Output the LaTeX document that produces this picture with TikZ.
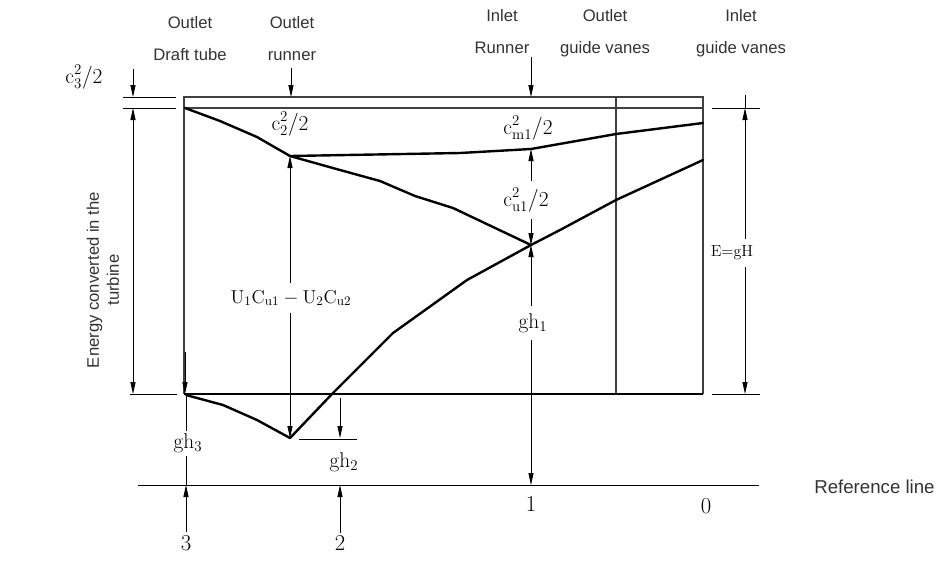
\documentclass[tikz,border=0pt]{standalone}
\usepackage{fontspec}
\setsansfont{Liberation Sans}
\usetikzlibrary{arrows.meta, calc}

\begin{document}
\begin{tikzpicture}[
  x=0.75pt, y=-0.75pt,
  font=\sffamily\fontsize{12.5}{15}\selectfont,
  caption/.style={text=black!80, inner sep=0pt, anchor=base},
  quantity/.style={font=\rmfamily\fontsize{16}{18}\selectfont, inner sep=2pt},
  onaxis/.style={quantity, inner ysep=5pt},
  frame/.style={draw=black!75, line width=0.9pt},
  energy/.style={line width=1.8pt, line join=round, line cap=round},
  guide/.style={line width=0.6pt},
  arrow/.style={guide, -{Triangle[length=9pt, width=3.8pt]}},
  dimline/.style={guide, {Triangle[length=9pt, width=3.8pt]}-{Triangle[length=9pt, width=3.8pt]}},
]
\useasboundingbox (0,0) rectangle (937,583);

\coordinate (tl) at (184,97);
\coordinate (tr) at (703,97);
\coordinate (bl) at (184,394);
\coordinate (br) at (703,394);
\coordinate (gv) at (616,97);
\coordinate (k3) at (185,108);
\coordinate (k2) at (290,156);
\coordinate (k1) at (531,149);
\coordinate (j1) at (531,245);
\coordinate (g2) at (290,438);
\coordinate (g3) at (186,395);
\coordinate (r3) at (186,485);
\coordinate (r2) at (340,485);
\coordinate (r1) at (531,485);

% frame and reference line
\draw[frame] (bl) -- (tl) -- (tr) -- (br);
\draw[frame] (184,108) -- (703,108);
\draw[frame] (gv) -- (gv |- bl);
\draw[line width=1.3pt] (bl) -- (br);
\draw[guide] (138,485) -- (759,485);

% energy lines
\draw[energy] (k3) -- (220,121) -- (257,137) -- (k2) -- (460,153) -- (k1)
  -- (616,134) -- (703,123);
\draw[energy] (k2) -- (340,170) -- (380,181) -- (415,196) -- (453,208) -- (j1);
\draw[energy] (g3) -- (223,405) -- (257,420) -- (g2) -- (332,394) -- (393,333)
  -- (467,280) -- (j1) -- (560,230) -- (616,200) -- (703,160);

% station headings
\node[caption] (dt1) at (190,28) {Outlet};
\node[caption] (dt2) at (190,60) {Draft tube};
\node[caption] (ru1) at (292,28) {Outlet};
\node[caption] (ru2) at (292,60) {runner};
\node[caption] (ri1) at (502,21) {Inlet};
\node[caption] (ri2) at (502,53) {Runner};
\node[caption] (go1) at (605,21) {Outlet};
\node[caption] (go2) at (605,53) {guide vanes};
\node[caption] (gi1) at (741,21) {Inlet};
\node[caption] (gi2) at (741,53) {guide vanes};
\node[caption, anchor=base west, font=\sffamily\fontsize{14}{16}\selectfont] (ref)
  at (814,493) {Reference line};
\node[caption, anchor=center, rotate=90, align=center] (conv) at (103,280)
  {Energy converted in the\\turbine};

% left dimensions
\draw[guide] (123,97) -- (176,97);
\draw[guide] (123,108) -- (176,108);
\draw[guide] (130,394) -- (177,394);
\node[quantity] (c3) at (84,77) {$\mathrm{c_3^2/2}$};
\coordinate (c3a) at (133,69);
\draw[arrow] (c3a) -- (c3a |- tl);
\draw[dimline] (133,108) -- (133,394);

% right dimension
\coordinate (eh) at (745,108);
\coordinate (el) at (745,394);
\draw[guide] (712,108) -- (760,108);
\draw[guide] (712,394) -- (760,394);
\draw[guide] (745,95) -- (eh);
\node[onaxis, font=\rmfamily\fontsize{12}{14}\selectfont] (egh) at (732,253)
  {$\mathrm{E{=}gH}$};
\draw[arrow] (eh |- egh.north) -- (eh);
\draw[arrow] (el |- egh.south) -- (el);

% station 3
\coordinate (s3a) at (185,352);
\draw[arrow] (s3a) -- (s3a |- bl);
\node[quantity] (gh3) at (188,443) {$\mathrm{gh_3}$};
\draw[guide] (g3) -- (g3 |- gh3.north);
\draw[guide] (g3 |- gh3.south) -- (r3);
\node[quantity, font=\rmfamily\fontsize{17}{19}\selectfont] (n3) at (186,543) {3};
\draw[arrow] (n3.north) -- (r3);

% runner outlet
\coordinate (s2top) at (291,68);
\draw[arrow] (s2top) -- (s2top |- tl);
\node[quantity] (c2) at (290,124) {$\mathrm{c_2^2/2}$};
\node[onaxis, font=\rmfamily\fontsize{14}{16}\selectfont] (euler) at (291,298)
  {$\mathrm{U_1C_{u1}-U_2C_{u2}}$};
\draw[arrow] (k2 |- euler.north) -- (k2);
\draw[arrow] (k2 |- euler.south) -- (g2);

% station 2
\coordinate (s2a) at (340,398);
\draw[arrow] (s2a) -- (340,438);
\draw[guide] (299,439) -- (357,439);
\node[quantity] (gh2) at (344,462) {$\mathrm{gh_2}$};
\node[quantity, font=\rmfamily\fontsize{17}{19}\selectfont] (n2) at (340,543) {2};
\draw[arrow] (n2.north) -- (r2);

% station 1
\coordinate (s1top) at (531,57);
\draw[arrow] (s1top) -- (s1top |- tl);
\node[quantity] (cm1) at (528,128) {$\mathrm{c_{m1}^2/2}$};
\node[onaxis] (cu1) at (526,200) {$\mathrm{c_{u1}^2/2}$};
\draw[arrow] (k1 |- cu1.north) -- (k1);
\draw[arrow] (k1 |- cu1.south) -- (j1);
\node[onaxis] (gh1) at (533,323) {$\mathrm{gh_1}$};
\draw[arrow] (j1 |- gh1.north) -- (j1);
\draw[arrow] (j1 |- gh1.south) -- (r1);
\node[quantity, font=\rmfamily\fontsize{17}{19}\selectfont] (n1) at (531,504) {1};
\node[quantity, font=\rmfamily\fontsize{17}{19}\selectfont] (n0) at (706,506) {0};
\end{tikzpicture}
\end{document}
